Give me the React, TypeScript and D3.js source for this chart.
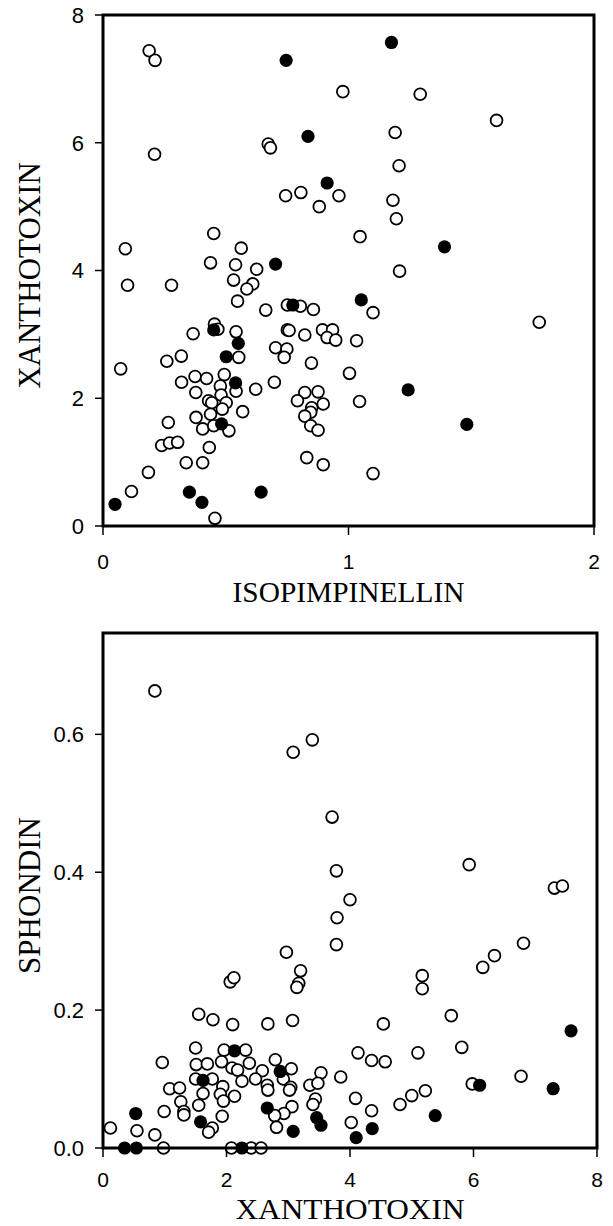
import React, { useEffect, useRef } from "react";
import * as d3 from "d3";

// ---- Top panel: ISOPIMPINELLIN (x) vs XANTHOTOXIN (y)
const isoXTicks = [0, 1, 2];
const xanYTicks = [0, 2, 4, 6, 8];
const topOpen: [number, number][] = [
  [0.188, 7.44], [0.212, 7.29], [0.977, 6.8], [1.292, 6.76], [1.603, 6.35], [1.19, 6.16],
  [0.673, 5.98], [0.682, 5.92], [0.21, 5.82], [1.206, 5.64], [0.744, 5.17], [0.806, 5.22],
  [0.961, 5.17], [0.881, 5.0], [1.181, 5.1], [1.195, 4.81], [1.047, 4.53], [0.451, 4.58],
  [0.091, 4.34], [0.563, 4.35], [0.438, 4.12], [0.54, 4.09], [0.626, 4.02], [1.208, 3.99],
  [0.532, 3.85], [0.61, 3.79], [0.586, 3.71], [0.1, 3.77], [0.279, 3.77],
  [0.548, 3.52], [0.663, 3.38], [0.751, 3.46], [0.804, 3.44], [0.857, 3.39], [1.1, 3.34],
  [1.777, 3.19], [0.454, 3.16], [0.468, 3.08], [0.542, 3.04], [0.367, 3.01], [0.751, 3.07],
  [0.758, 3.06], [0.822, 2.99], [0.894, 3.07], [0.935, 3.07], [0.913, 2.95], [0.948, 2.91],
  [1.033, 2.9], [0.553, 2.64], [0.703, 2.79], [0.749, 2.77], [0.738, 2.64], [0.319, 2.66],
  [0.26, 2.58], [0.849, 2.55], [0.072, 2.46], [1.004, 2.39], [0.494, 2.37], [0.32, 2.25],
  [0.375, 2.34], [0.422, 2.31], [0.378, 2.09], [0.478, 2.19], [0.542, 2.11], [0.481, 2.05],
  [0.43, 1.96], [0.443, 1.93], [0.502, 1.93], [0.622, 2.14], [0.698, 2.25], [0.822, 2.09],
  [0.876, 2.1], [0.792, 1.96], [0.897, 1.91], [1.045, 1.95], [0.85, 1.85], [0.846, 1.78],
  [0.822, 1.72], [0.486, 1.83], [0.438, 1.75], [0.569, 1.79], [0.379, 1.7], [0.266, 1.62],
  [0.406, 1.52], [0.451, 1.57], [0.513, 1.49], [0.846, 1.57], [0.876, 1.5], [0.239, 1.26],
  [0.271, 1.3], [0.304, 1.31], [0.433, 1.23], [0.339, 0.99], [0.406, 0.99], [0.83, 1.07],
  [0.897, 0.96], [1.1, 0.82], [0.185, 0.84], [0.116, 0.54], [0.456, 0.12],
];
const topFilled: [number, number][] = [
  [1.175, 7.57], [0.746, 7.29], [0.835, 6.1], [0.913, 5.37], [1.391, 4.37], [0.703, 4.1],
  [0.773, 3.46], [1.052, 3.54], [0.451, 3.07], [0.551, 2.86], [0.502, 2.65], [1.243, 2.13],
  [0.54, 2.24], [0.483, 1.6], [1.482, 1.59], [0.049, 0.34], [0.352, 0.53], [0.403, 0.37],
  [0.644, 0.53],
];

// ---- Bottom panel: XANTHOTOXIN (x) vs SPHONDIN (y)
const xanXTicks = [0, 2, 4, 6, 8];
const sphYTicks = [0, 0.2, 0.4, 0.6];
const botOpen: [number, number][] = [
  [0.84, 0.663], [3.08, 0.574], [3.39, 0.592], [3.71, 0.48], [3.78, 0.402], [4.0, 0.36],
  [3.79, 0.334], [5.93, 0.411], [7.31, 0.377], [7.44, 0.38],
  [3.78, 0.295], [2.97, 0.284], [6.81, 0.297], [6.34, 0.279], [6.15, 0.262], [5.17, 0.25],
  [5.17, 0.231], [3.2, 0.257], [3.17, 0.239], [3.14, 0.233], [2.06, 0.241], [2.12, 0.247],
  [4.54, 0.18], [5.64, 0.192], [5.81, 0.146], [5.1, 0.138], [4.13, 0.138], [4.35, 0.127],
  [4.57, 0.125], [6.77, 0.104], [5.98, 0.093], [5.22, 0.083], [5.0, 0.076], [4.81, 0.063],
  [4.09, 0.072], [4.35, 0.054], [4.02, 0.037],
  [1.55, 0.194], [1.78, 0.186], [2.1, 0.179], [2.67, 0.18], [3.07, 0.185], [1.5, 0.145],
  [1.96, 0.142], [2.31, 0.142], [2.79, 0.128], [0.96, 0.124], [1.51, 0.121], [1.69, 0.122],
  [1.92, 0.125], [2.09, 0.116], [2.18, 0.113], [2.37, 0.123], [2.58, 0.112], [3.05, 0.115],
  [3.53, 0.109], [3.85, 0.103], [1.5, 0.1], [1.77, 0.1], [1.94, 0.089], [2.25, 0.097],
  [2.47, 0.1], [2.66, 0.091], [2.92, 0.1], [3.04, 0.088], [3.35, 0.091], [3.48, 0.094],
  [1.08, 0.086], [1.24, 0.087], [1.62, 0.079], [1.9, 0.078], [2.13, 0.075], [2.67, 0.084],
  [3.02, 0.084], [1.26, 0.067], [1.55, 0.062], [1.95, 0.068], [3.44, 0.071], [3.4, 0.063],
  [0.99, 0.053], [1.31, 0.053], [1.31, 0.048], [3.06, 0.06], [2.93, 0.05], [2.78, 0.047],
  [1.93, 0.046], [0.55, 0.025], [0.12, 0.029], [0.84, 0.019], [1.77, 0.029], [1.71, 0.023],
  [2.81, 0.03], [0.98, 0], [2.08, 0], [2.4, 0], [2.56, 0],
];
const botFilled: [number, number][] = [
  [7.58, 0.17], [6.1, 0.091], [7.29, 0.086], [5.38, 0.047], [4.36, 0.028], [4.1, 0.015],
  [2.13, 0.141], [2.87, 0.111], [1.62, 0.098], [0.53, 0.05], [2.66, 0.058], [1.58, 0.038],
  [3.46, 0.044], [3.53, 0.033], [3.08, 0.024], [0.35, 0], [0.54, 0], [2.25, 0],
];

const W = 613;
const H = 1226;
const TICK_FONT = "'Liberation Sans', Arial, sans-serif";
const TITLE_FONT = "'Liberation Serif', 'Times New Roman', serif";

type Panel = {
  x0: number; x1: number; y0: number; y1: number;
  xDomain: [number, number]; yDomain: [number, number];
  xTicks: number[]; yTicks: number[]; yFmt: (v: number) => string;
  open: [number, number][]; filled: [number, number][];
  xTitle: string; yTitle: string; xTitleY: number; xLabelY: number; xTitleLen: number;
};

const panels: Panel[] = [
  {
    x0: 103, x1: 594, y0: 15, y1: 526, xDomain: [0, 2], yDomain: [0, 8],
    xTicks: isoXTicks, yTicks: xanYTicks, yFmt: (v) => String(v),
    open: topOpen, filled: topFilled, xTitle: "ISOPIMPINELLIN", yTitle: "XANTHOTOXIN",
    xTitleY: 602, xLabelY: 561, xTitleLen: 232,
  },
  {
    x0: 103, x1: 597, y0: 633, y1: 1148, xDomain: [0, 8], yDomain: [0, 0.747],
    xTicks: xanXTicks, yTicks: sphYTicks, yFmt: (v) => v.toFixed(1),
    open: botOpen, filled: botFilled, xTitle: "XANTHOTOXIN", yTitle: "SPHONDIN",
    xTitleY: 1219, xLabelY: 1179, xTitleLen: 229,
  },
];

export default function App() {
  const ref = useRef<SVGSVGElement>(null);
  useEffect(() => {
    const svg = d3.select(ref.current);
    svg.selectAll("*").remove();
    svg.append("rect").attr("width", W).attr("height", H).attr("fill", "white");
    const fs = 22;
    const fsx = 21;
    panels.forEach((p) => {
      const x = d3.scaleLinear().domain(p.xDomain).range([p.x0, p.x1]);
      const y = d3.scaleLinear().domain(p.yDomain).range([p.y1, p.y0]);
      const g = svg.append("g");
      // points
      const pts = g.append("g");
      pts.selectAll("circle.o").data(p.open).enter().append("circle")
        .attr("cx", (d) => x(d[0])).attr("cy", (d) => y(d[1])).attr("r", 5.9)
        .attr("fill", "white").attr("stroke", "black").attr("stroke-width", 1.8);
      pts.selectAll("circle.f").data(p.filled).enter().append("circle")
        .attr("cx", (d) => x(d[0])).attr("cy", (d) => y(d[1])).attr("r", 6.6)
        .attr("fill", "black");
      // frame
      g.append("rect").attr("x", p.x0).attr("y", p.y0)
        .attr("width", p.x1 - p.x0).attr("height", p.y1 - p.y0)
        .attr("fill", "none").attr("stroke", "black").attr("stroke-width", 3);
      // y ticks
      p.yTicks.forEach((t) => {
        g.append("line").attr("x1", p.x0 - 8).attr("x2", p.x0).attr("y1", y(t)).attr("y2", y(t))
          .attr("stroke", "black").attr("stroke-width", 1.5);
        g.append("text").attr("x", p.x0 - 19).attr("y", y(t) + 0.36 * fs)
          .attr("text-anchor", "end").attr("font-family", TICK_FONT).attr("font-size", fs)
          .text(p.yFmt(t));
      });
      // x ticks
      p.xTicks.forEach((t) => {
        g.append("line").attr("x1", x(t)).attr("x2", x(t)).attr("y1", p.y1).attr("y2", p.y1 + 9)
          .attr("stroke", "black").attr("stroke-width", 1.5);
        g.append("text").attr("x", x(t)).attr("y", p.xLabelY + 0.36 * fsx)
          .attr("text-anchor", "middle").attr("font-family", TICK_FONT).attr("font-size", fsx)
          .text(String(t));
      });
      // titles
      g.append("text").attr("x", (p.x0 + p.x1) / 2).attr("y", p.xTitleY)
        .attr("text-anchor", "middle").attr("font-family", TITLE_FONT).attr("font-size", 29)
        .attr("textLength", p.xTitleLen).attr("lengthAdjust", "spacingAndGlyphs")
        .text(p.xTitle);
      g.append("text")
        .attr("transform", `translate(40,${(p.y0 + p.y1) / 2 + 5}) rotate(-90)`)
        .attr("text-anchor", "middle").attr("font-family", TITLE_FONT).attr("font-size", 31)
        .text(p.yTitle);
    });
  }, []);
  return (
    <div style={{ position: "absolute", left: 0, top: 0 }}>
      <svg ref={ref} width={W} height={H} style={{ display: "block" }} />
    </div>
  );
}
